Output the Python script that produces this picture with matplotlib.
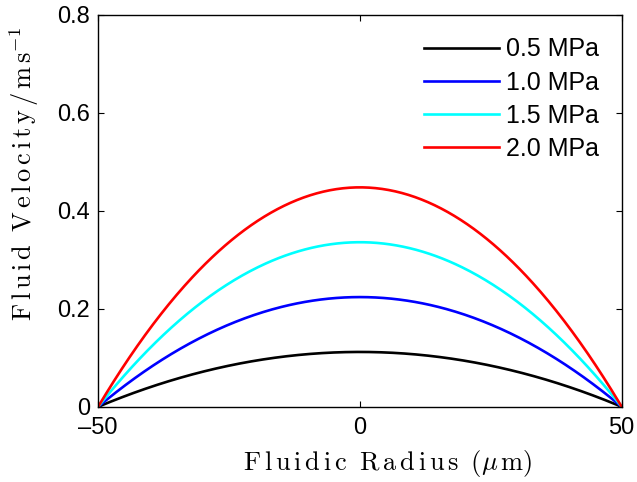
import numpy as np
import matplotlib
matplotlib.use("Agg")
import matplotlib.pyplot as plt

# peak (centreline) velocities, m/s
pressures = ["0.5 MPa", "1.0 MPa", "1.5 MPa", "2.0 MPa"]
v_peak = [0.112, 0.224, 0.336, 0.448]
colors = ["#000000", "#0000ff", "#00ffff", "#ff0000"]
R = 50.0  # channel half width, um

plt.rcParams["mathtext.fontset"] = "cm"
plt.rcParams["font.family"] = ["Liberation Sans", "DejaVu Sans"]

G = r"\,"
W = r"\;\;"


def spaced(word):
    # latex-ish letter spaced text, like the matlab export
    return G.join(word)


xlab = (r"$\mathrm{" + spaced("Fluidic") + W + spaced("Radius") + W
        + "(" + r"\mu" + G + "m" + ")}$")
ylab = (r"$\mathrm{" + spaced("Fluid") + W + spaced("Velocity") + G + "/" + G
        + "m" + G + "s^{-1}}$")

fig = plt.figure(figsize=(6.37, 4.82), dpi=100)
ax = fig.add_axes([0.154, 0.156, 0.822, 0.813])

r = np.linspace(-R, R, 401)
for lab, vp, c in zip(pressures, v_peak, colors):
    # Poiseuille profile
    ax.plot(r, vp * (1 - (r / R) ** 2), color=c, lw=1.9, label=lab)

ax.set_xlim(-50, 50)
ax.set_ylim(0, 0.8)
ax.set_xticks([-50, 0, 50])
ax.set_xticklabels(["\u201350", "0", "50"])
ax.set_yticks([0, 0.2, 0.4, 0.6, 0.8])
ax.set_yticklabels(["0", "0.2", "0.4", "0.6", "0.8"])
ax.tick_params(direction="in", length=4, width=0.8, labelsize=17,
               top=True, right=True)
ax.tick_params(axis="x", pad=7)
ax.tick_params(axis="y", pad=6)
for s in ax.spines.values():
    s.set_linewidth(1.0)

ax.set_xlabel(xlab, fontsize=19)
ax.set_ylabel(ylab, fontsize=19)
ax.xaxis.set_label_coords(0.553, -0.104)
ax.yaxis.set_label_coords(-0.11, 0.594)

ax.legend(loc="upper right", frameon=False, fontsize=18, handlelength=3.0,
          labelspacing=0.37, borderaxespad=0.5, handletextpad=0.3)

fig.savefig("out.png", dpi=100)
